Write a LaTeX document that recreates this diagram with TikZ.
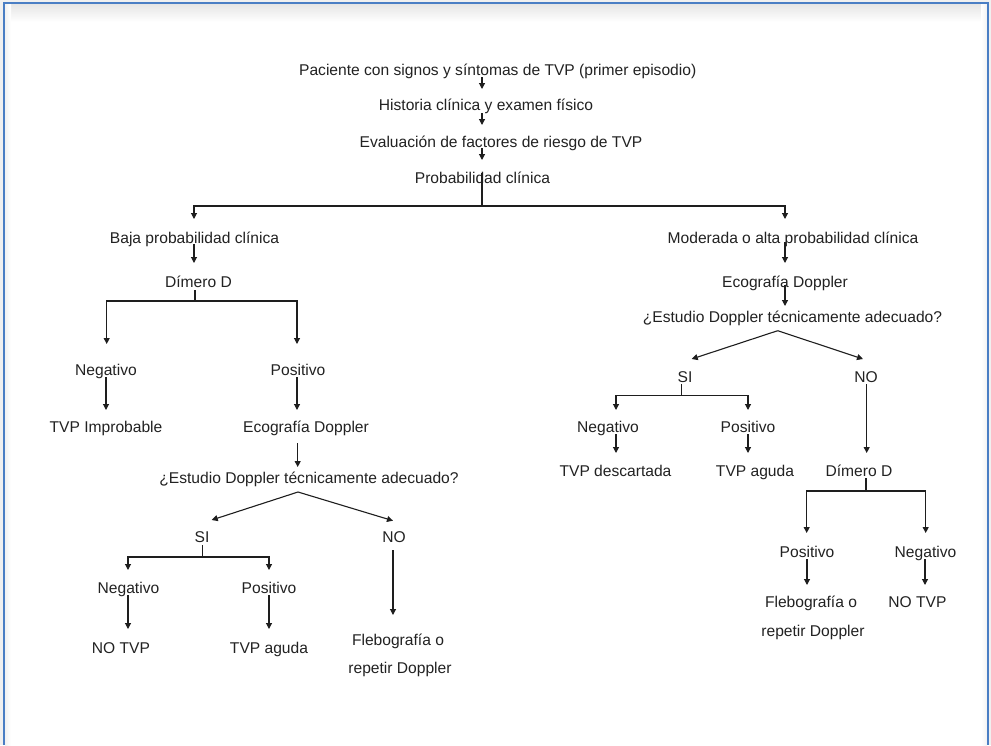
\documentclass[tikz,border=0pt]{standalone}
\usepackage{fontspec}
\setmainfont{Liberation Sans}
\usetikzlibrary{arrows.meta,calc}
\definecolor{txtcol}{HTML}{222222}
\definecolor{lncol}{HTML}{1E1E1E}
\definecolor{frameblue}{HTML}{4A7EC4}
\begin{document}
\begin{tikzpicture}[x=1pt,y=-1pt,
  lbl/.style={anchor=base, inner sep=0pt, text height=11.5pt, text depth=0pt,
              font=\fontsize{15.6}{18}\selectfont, text=txtcol},
  conn/.style={draw=lncol, line width=1.1pt},
  arr/.style={conn, -{Triangle[width=6pt,length=6pt]}}]
\useasboundingbox (0,0) rectangle (991,745);
% frame
\fill[black!6] (0,0) rectangle (991,745);
\fill[white] (5,4) rectangle (987,745);
\shade[top color=black!10, bottom color=white] (5,4) rectangle (987,22);
\shade[left color=black!5, right color=white] (5,4) rectangle (11,745);
\shade[left color=white, right color=black!5] (981,4) rectangle (987,745);
\draw[frameblue, line width=2.2pt] (3.8,745) -- (3.8,3) -- (988,3) -- (988,745);

% top chain
\node[lbl] (p1) at (497.7,75) {Paciente con signos y síntomas de TVP (primer episodio)};
\node[lbl] (p2) at (486,110) {Historia clínica y examen físico};
\node[lbl] (p3) at (501,147) {Evaluación de factores de riesgo de TVP};
\node[lbl] (p4) at (482.5,183) {Probabilidad clínica};

% left branch
\node[lbl] (b1) at (194.5,243) {Baja probabilidad clínica};
\node[lbl] (b2) at (198.5,287) {Dímero D};
\node[lbl] (b3) at (106,375) {Negativo};
\node[lbl] (b4) at (298,375) {Positivo};
\node[lbl] (b5) at (106,432) {TVP Improbable};
\node[lbl] (b6) at (306,432) {Ecografía Doppler};
\node[lbl] (b7) at (309,483) {¿Estudio Doppler técnicamente adecuado?};
\node[lbl] (b8) at (202,542) {SI};
\node[lbl] (b9) at (394,542) {NO};
\node[lbl] (b10) at (128.5,593) {Negativo};
\node[lbl] (b11) at (269,593) {Positivo};
\node[lbl] (b12) at (121,653) {NO TVP};
\node[lbl] (b13) at (269,653) {TVP aguda};
\node[lbl] (b14a) at (398,645) {Flebografía o};
\node[lbl] (b14b) at (400,673) {repetir Doppler};

% right branch
\node[lbl] (m1) at (793,243) {Moderada o alta probabilidad clínica};
\node[lbl] (m2) at (785,287) {Ecografía Doppler};
\node[lbl] (m3) at (792.5,322) {¿Estudio Doppler técnicamente adecuado?};
\node[lbl] (m4) at (685,382) {SI};
\node[lbl] (m5) at (866,382) {NO};
\node[lbl] (m6) at (608,432) {Negativo};
\node[lbl] (m7) at (748,432) {Positivo};
\node[lbl] (m8) at (615.5,476) {TVP descartada};
\node[lbl] (m9) at (755,476) {TVP aguda};
\node[lbl] (m10) at (859,476) {Dímero D};
\node[lbl] (m11) at (807,557) {Positivo};
\node[lbl] (m12) at (925.5,557) {Negativo};
\node[lbl] (m13a) at (811,607) {Flebografía o};
\node[lbl] (m13b) at (813,636) {repetir Doppler};
\node[lbl] (m14) at (917.5,607) {NO TVP};

% connectors: top
\draw[arr] ($(p1.base)+(-15.7,2)$) -- ($(p2.base)+(-4,-21)$);
\draw[arr] ($(p2.base)+(-4,3)$) -- ($(p3.base)+(-19,-22)$);
\draw[arr] ($(p3.base)+(-19,1)$) -- ($(p4.base)+(-0.5,-23)$);
\draw[conn] ($(p4.base)+(-0.5,-10)$) -- ($(p4.base)+(-0.5,23)$) coordinate (s1);
\draw[arr] (s1) -| ($(b1.base)+(-0.5,-24)$);
\draw[arr] (s1) -| ($(m1.base)+(-8,-24)$);

% connectors: left
\draw[arr] ($(b1.base)+(-0.5,1)$) -- ($(b2.base)+(-4.5,-24)$);
\draw[conn] ($(b2.base)+(-3.5,3)$) -- ($(b2.base)+(-3.5,14)$) coordinate (s2);
\draw[arr] (s2) -| ($(b3.base)+(0.7,-31)$);
\draw[arr] (s2) -| ($(b4.base)+(-1,-31)$);
\draw[arr] ($(b3.base)+(0,2)$) -- ($(b5.base)+(0,-22)$);
\draw[arr] ($(b4.base)+(-1,2)$) -- ($(b6.base)+(-9,-22)$);
\draw[arr] ($(b6.base)+(-8.3,11)$) -- ($(b7.base)+(-11.3,-16)$);
\coordinate (f1) at ($(b7.base)+(-11,9)$);
\draw[arr] (f1) -- ($(b8.base)+(9.7,-22)$);
\draw[arr] (f1) -- ($(b9.base)+(-1,-21.3)$);
\draw[conn] ($(b8.base)+(0.7,3)$) -- ($(b8.base)+(0.7,15)$) coordinate (s3);
\draw[arr] (s3) -| ($(b10.base)+(-0.5,-23)$);
\draw[arr] (s3) -| ($(b11.base)+(0,-23)$);
\draw[arr] ($(b10.base)+(-0.5,2)$) -- ($(b12.base)+(7,-24)$);
\draw[arr] ($(b11.base)+(0,2)$) -- ($(b13.base)+(0,-24)$);
\draw[arr] ($(b9.base)+(-1,8)$) -- ($(b14a.base)+(-5,-30)$);

% connectors: right
\draw[arr] ($(m1.base)+(-8,-1)$) -- ($(m2.base)+(0,-24)$);
\draw[arr] ($(m2.base)+(0,-2)$) -- ($(m3.base)+(-7.5,-16)$);
\coordinate (f2) at ($(m3.base)+(-14.8,8.7)$);
\draw[arr] (f2) -- ($(m4.base)+(6.7,-23)$);
\draw[arr] (f2) -- ($(m5.base)+(-3,-23)$);
\draw[conn] ($(m4.base)+(-3.3,2)$) -- ($(m4.base)+(-3.3,13.7)$) coordinate (s4);
\draw[arr] (s4) -| ($(m6.base)+(8,-22)$);
\draw[arr] (s4) -| ($(m7.base)+(0,-22)$);
\draw[arr] ($(m6.base)+(8,2)$) -- ($(m8.base)+(0.5,-23)$);
\draw[arr] ($(m7.base)+(0,2)$) -- ($(m9.base)+(-7,-23)$);
\draw[arr] ($(m5.base)+(0.7,2)$) -- ($(m10.base)+(7.7,-23)$);
\draw[conn] ($(m10.base)+(7,2)$) -- ($(m10.base)+(7,15)$) coordinate (s5);
\draw[arr] (s5) -| ($(m11.base)+(-0.3,-24)$);
\draw[arr] (s5) -| ($(m12.base)+(0.2,-24)$);
\draw[arr] ($(m11.base)+(0,2)$) -- ($(m13a.base)+(-4,-22)$);
\draw[arr] ($(m12.base)+(-0.5,2)$) -- ($(m14.base)+(7.5,-22)$);
\end{tikzpicture}
\end{document}
